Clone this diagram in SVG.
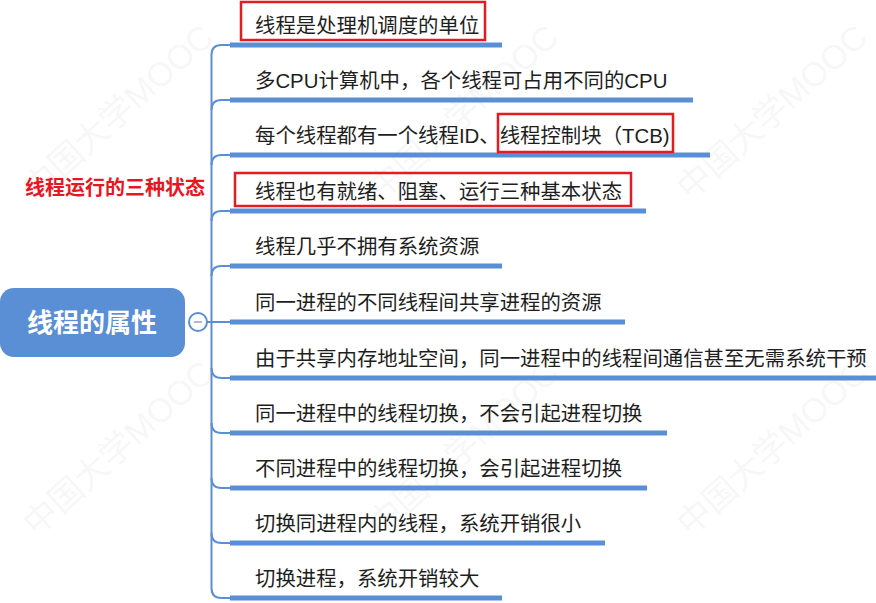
<svg xmlns="http://www.w3.org/2000/svg" width="876" height="603" viewBox="0 0 876 603">
<style>
.wm{font-family:"Liberation Sans","Noto Sans CJK SC",sans-serif;font-size:34px;fill:#000;fill-opacity:0.055;text-anchor:middle;dominant-baseline:central}
.t{font-family:"Liberation Sans","Noto Sans CJK SC",sans-serif;font-size:20.4px;fill:#1e1e1e}
.ul{stroke:#5a8fd6;stroke-width:5;fill:none}
.br{stroke:#5a8fd6;stroke-width:2;fill:none}
.hl{fill:none;stroke:#e31b23;stroke-width:2.5}
</style>
<rect width="876" height="603" fill="#ffffff"/>
<g id="watermarks">
<text class="wm" transform="translate(118,112) rotate(-42)">中国大学MOOC</text>
<text class="wm" transform="translate(463,112) rotate(-42)">中国大学MOOC</text>
<text class="wm" transform="translate(772,112) rotate(-42)">中国大学MOOC</text>
<text class="wm" transform="translate(118,448) rotate(-42)">中国大学MOOC</text>
<text class="wm" transform="translate(463,448) rotate(-42)">中国大学MOOC</text>
<text class="wm" transform="translate(772,448) rotate(-42)">中国大学MOOC</text>
</g>
<g id="connectors">
<line class="br" x1="211.5" y1="55" x2="211.5" y2="588"/>
<path class="br" d="M211.5,55 Q211.5,45 221.5,45 H232"/>
<path class="br" d="M211.5,110 Q211.5,100 221.5,100 H232"/>
<path class="br" d="M211.5,165 Q211.5,155 221.5,155 H232"/>
<path class="br" d="M211.5,221 Q211.5,211 221.5,211 H232"/>
<path class="br" d="M211.5,276 Q211.5,266 221.5,266 H232"/>
<path class="br" d="M207,322 H232"/>
<path class="br" d="M211.5,368 Q211.5,378 221.5,378 H232"/>
<path class="br" d="M211.5,423 Q211.5,433 221.5,433 H232"/>
<path class="br" d="M211.5,478 Q211.5,488 221.5,488 H232"/>
<path class="br" d="M211.5,533 Q211.5,543 221.5,543 H232"/>
<path class="br" d="M211.5,588 Q211.5,598 221.5,598 H232"/>
</g>
<g id="root">
<rect x="0" y="288" width="185" height="69" rx="14" fill="#5a8fd6"/>
<text x="92" y="332" text-anchor="middle" style="font-family:'Liberation Sans','Noto Sans CJK SC',sans-serif;font-size:26px;font-weight:bold;fill:#ffffff">线程的属性</text>
<circle cx="198" cy="322" r="9" fill="#ffffff" stroke="#5a8fd6" stroke-width="2"/>
<line x1="194" y1="322" x2="202" y2="322" stroke="#9aa0c0" stroke-width="1.5"/>
</g>
<g id="note">
<text x="25" y="195" style="font-family:'Liberation Sans','Noto Sans CJK SC',sans-serif;font-size:20px;font-weight:bold;fill:#e8161e">线程运行的三种状态</text>
</g>
<g id="n1"><line class="ul" x1="230" y1="45" x2="502" y2="45"/><text class="t" x="255" y="32.5">线程是处理机调度的单位</text><rect class="hl" x="241" y="2" width="244" height="38"/></g>
<g id="n2"><line class="ul" x1="230" y1="100" x2="693" y2="100"/><text class="t" x="255" y="87.5">多CPU计算机中，各个线程可占用不同的CPU</text></g>
<g id="n3"><line class="ul" x1="230" y1="155" x2="710" y2="155"/><text class="t" x="255" y="142.5">每个线程都有一个线程ID、线程控制块（TCB)</text><rect class="hl" x="498" y="114" width="175" height="38"/></g>
<g id="n4"><line class="ul" x1="230" y1="211" x2="646" y2="211"/><text class="t" x="255" y="198.5">线程也有就绪、阻塞、运行三种基本状态</text><rect class="hl" x="235" y="173" width="396" height="33"/></g>
<g id="n5"><line class="ul" x1="230" y1="266" x2="502" y2="266"/><text class="t" x="255" y="253.5">线程几乎不拥有系统资源</text></g>
<g id="n6"><line class="ul" x1="230" y1="322" x2="625" y2="322"/><text class="t" x="255" y="309.5">同一进程的不同线程间共享进程的资源</text></g>
<g id="n7"><line class="ul" x1="230" y1="378" x2="876" y2="378"/><text class="t" x="255" y="365.5">由于共享内存地址空间，同一进程中的线程间通信甚至无需系统干预</text></g>
<g id="n8"><line class="ul" x1="230" y1="433" x2="667" y2="433"/><text class="t" x="255" y="420.5">同一进程中的线程切换，不会引起进程切换</text></g>
<g id="n9"><line class="ul" x1="230" y1="488" x2="647" y2="488"/><text class="t" x="255" y="475.5">不同进程中的线程切换，会引起进程切换</text></g>
<g id="n10"><line class="ul" x1="230" y1="543" x2="605" y2="543"/><text class="t" x="255" y="530.5">切换同进程内的线程，系统开销很小</text></g>
<g id="n11"><line class="ul" x1="230" y1="598" x2="502" y2="598"/><text class="t" x="255" y="585.5">切换进程，系统开销较大</text></g>
</svg>
